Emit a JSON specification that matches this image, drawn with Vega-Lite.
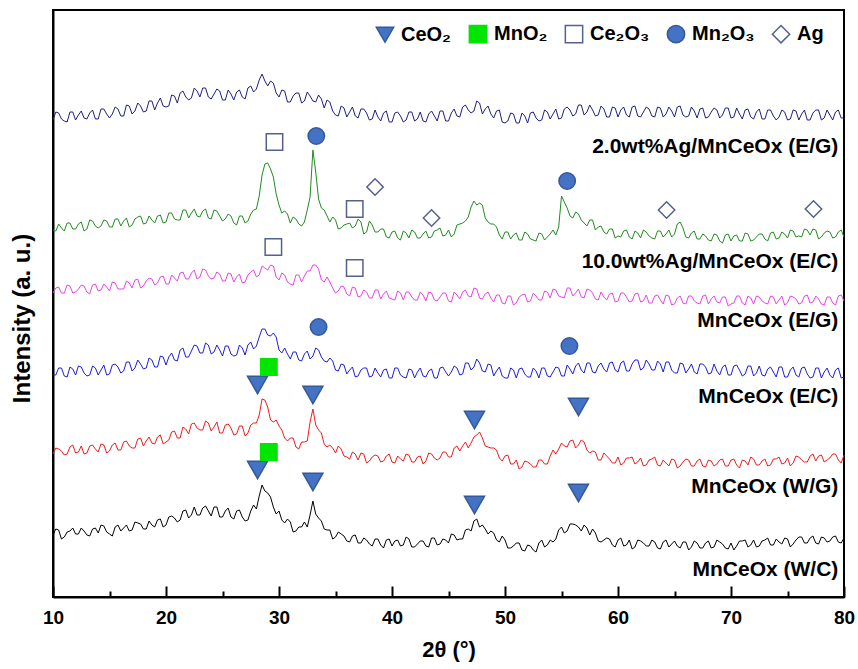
{
  "$schema": "https://vega.github.io/schema/vega-lite/v6.json",
  "width": 791,
  "height": 587,
  "autosize": {"type": "none"},
  "padding": {"left": 53, "top": 10, "right": 14, "bottom": 72},
  "background": "white",
  "config": {
    "view": {"stroke": "black", "strokeWidth": 2},
    "font": "Liberation Sans",
    "axis": {"domainColor": "black", "domainWidth": 2, "tickColor": "black", "tickWidth": 2, "grid": false, "labelFontWeight": "bold", "titleFontWeight": "bold", "labelColor": "black", "titleColor": "black", "labelFont": "Liberation Sans", "titleFont": "Liberation Sans"}
  },
  "resolve": {"axis": {"x": "independent", "y": "independent"}},
  "layer": [
    {
      "data": {"values": [
        {"x":10,"wc":62,"wg":143,"ec":222,"eg":304,"ag10":367,"ag2":477},
        {"x":10.5,"wc":67,"wg":148,"ec":229,"eg":310,"ag10":373,"ag2":484},
        {"x":11,"wc":60,"wg":142,"ec":221,"eg":304,"ag10":366,"ag2":476},
        {"x":11.5,"wc":66,"wg":150,"ec":230,"eg":311,"ag10":374,"ag2":485},
        {"x":12,"wc":63,"wg":144,"ec":222,"eg":305,"ag10":368,"ag2":477},
        {"x":12.5,"wc":69,"wg":151,"ec":230,"eg":312,"ag10":375,"ag2":486},
        {"x":13,"wc":62,"wg":144,"ec":221,"eg":305,"ag10":368,"ag2":478},
        {"x":13.5,"wc":68,"wg":152,"ec":231,"eg":312,"ag10":376,"ag2":487},
        {"x":14,"wc":64,"wg":145,"ec":222,"eg":306,"ag10":369,"ag2":478},
        {"x":14.5,"wc":71,"wg":152,"ec":232,"eg":313,"ag10":377,"ag2":488},
        {"x":15,"wc":63,"wg":146,"ec":223,"eg":306,"ag10":370,"ag2":479},
        {"x":15.5,"wc":70,"wg":154,"ec":233,"eg":314,"ag10":378,"ag2":490},
        {"x":16,"wc":66,"wg":147,"ec":224,"eg":308,"ag10":371,"ag2":481},
        {"x":16.5,"wc":72,"wg":156,"ec":235,"eg":316,"ag10":379,"ag2":492},
        {"x":17,"wc":67,"wg":149,"ec":226,"eg":309,"ag10":372,"ag2":483},
        {"x":17.5,"wc":74,"wg":158,"ec":237,"eg":318,"ag10":380,"ag2":494},
        {"x":18,"wc":68,"wg":151,"ec":228,"eg":311,"ag10":373,"ag2":485},
        {"x":18.5,"wc":76,"wg":160,"ec":239,"eg":319,"ag10":381,"ag2":496},
        {"x":19,"wc":70,"wg":153,"ec":230,"eg":312,"ag10":374,"ag2":487},
        {"x":19.5,"wc":78,"wg":162,"ec":241,"eg":320,"ag10":382,"ag2":499},
        {"x":20,"wc":72,"wg":155,"ec":232,"eg":313,"ag10":375,"ag2":490},
        {"x":20.5,"wc":81,"wg":165,"ec":244,"eg":322,"ag10":384,"ag2":502},
        {"x":21,"wc":75,"wg":159,"ec":236,"eg":316,"ag10":377,"ag2":494},
        {"x":21.5,"wc":86,"wg":170,"ec":249,"eg":325,"ag10":387,"ag2":506},
        {"x":22,"wc":79,"wg":163,"ec":240,"eg":318,"ag10":379,"ag2":497},
        {"x":22.5,"wc":90,"wg":174,"ec":252,"eg":327,"ag10":388,"ag2":509},
        {"x":23,"wc":82,"wg":167,"ec":244,"eg":320,"ag10":380,"ag2":500},
        {"x":23.5,"wc":91,"wg":176,"ec":254,"eg":327,"ag10":388,"ag2":509},
        {"x":24,"wc":81,"wg":166,"ec":243,"eg":318,"ag10":378,"ag2":498},
        {"x":24.5,"wc":90,"wg":175,"ec":252,"eg":325,"ag10":386,"ag2":508},
        {"x":25,"wc":80,"wg":164,"ec":241,"eg":316,"ag10":376,"ag2":497},
        {"x":25.5,"wc":89,"wg":173,"ec":251,"eg":324,"ag10":383,"ag2":507},
        {"x":26,"wc":78,"wg":162,"ec":241,"eg":315,"ag10":374,"ag2":497},
        {"x":26.5,"wc":87,"wg":171,"ec":252,"eg":323,"ag10":381,"ag2":507},
        {"x":27,"wc":76,"wg":161,"ec":242,"eg":315,"ag10":374,"ag2":498},
        {"x":27.5,"wc":86,"wg":172,"ec":255,"eg":325,"ag10":383,"ag2":511},
        {"x":28,"wc":88,"wg":174,"ec":251,"eg":320,"ag10":388,"ag2":508},
        {"x":28.5,"wc":112,"wg":198,"ec":268,"eg":331,"ag10":422,"ag2":523},
        {"x":29,"wc":104,"wg":190,"ec":262,"eg":327,"ag10":434,"ag2":511},
        {"x":29.5,"wc":90,"wg":175,"ec":264,"eg":331,"ag10":420,"ag2":514},
        {"x":30,"wc":86,"wg":171,"ec":247,"eg":317,"ag10":392,"ag2":500},
        {"x":30.5,"wc":74,"wg":159,"ec":249,"eg":322,"ag10":386,"ag2":506},
        {"x":31,"wc":75,"wg":159,"ec":238,"eg":313,"ag10":374,"ag2":495},
        {"x":31.5,"wc":66,"wg":150,"ec":245,"eg":322,"ag10":378,"ag2":504},
        {"x":32,"wc":70,"wg":155,"ec":236,"eg":315,"ag10":371,"ag2":494},
        {"x":32.5,"wc":70,"wg":156,"ec":246,"eg":326,"ag10":387,"ag2":505},
        {"x":33,"wc":96,"wg":188,"ec":241,"eg":332,"ag10":447,"ag2":496},
        {"x":33.5,"wc":79,"wg":167,"ec":247,"eg":328,"ag10":398,"ag2":502},
        {"x":34,"wc":68,"wg":153,"ec":236,"eg":315,"ag10":387,"ag2":489},
        {"x":34.5,"wc":67,"wg":152,"ec":239,"eg":315,"ag10":375,"ag2":495},
        {"x":35,"wc":60,"wg":144,"ec":227,"eg":304,"ag10":377,"ag2":482},
        {"x":35.5,"wc":63,"wg":148,"ec":233,"eg":311,"ag10":369,"ag2":491},
        {"x":36,"wc":56,"wg":140,"ec":223,"eg":303,"ag10":373,"ag2":480},
        {"x":36.5,"wc":61,"wg":145,"ec":230,"eg":310,"ag10":369,"ag2":490},
        {"x":37,"wc":54,"wg":137,"ec":221,"eg":300,"ag10":378,"ag2":479},
        {"x":37.5,"wc":59,"wg":143,"ec":229,"eg":307,"ag10":363,"ag2":488},
        {"x":38,"wc":53,"wg":136,"ec":220,"eg":299,"ag10":376,"ag2":477},
        {"x":38.5,"wc":58,"wg":142,"ec":229,"eg":307,"ag10":365,"ag2":487},
        {"x":39,"wc":52,"wg":135,"ec":220,"eg":298,"ag10":368,"ag2":476},
        {"x":39.5,"wc":57,"wg":141,"ec":228,"eg":306,"ag10":360,"ag2":486},
        {"x":40,"wc":51,"wg":135,"ec":219,"eg":298,"ag10":365,"ag2":475},
        {"x":40.5,"wc":57,"wg":141,"ec":229,"eg":306,"ag10":359,"ag2":485},
        {"x":41,"wc":52,"wg":136,"ec":220,"eg":297,"ag10":366,"ag2":475},
        {"x":41.5,"wc":58,"wg":142,"ec":228,"eg":305,"ag10":359,"ag2":485},
        {"x":42,"wc":50,"wg":135,"ec":219,"eg":297,"ag10":365,"ag2":476},
        {"x":42.5,"wc":56,"wg":141,"ec":229,"eg":305,"ag10":359,"ag2":485},
        {"x":43,"wc":51,"wg":136,"ec":220,"eg":296,"ag10":366,"ag2":475},
        {"x":43.5,"wc":59,"wg":143,"ec":228,"eg":304,"ag10":360,"ag2":486},
        {"x":44,"wc":52,"wg":137,"ec":219,"eg":296,"ag10":367,"ag2":476},
        {"x":44.5,"wc":58,"wg":145,"ec":230,"eg":304,"ag10":361,"ag2":486},
        {"x":45,"wc":54,"wg":140,"ec":221,"eg":296,"ag10":367,"ag2":476},
        {"x":45.5,"wc":62,"wg":149,"ec":231,"eg":305,"ag10":363,"ag2":488},
        {"x":46,"wc":58,"wg":146,"ec":222,"eg":298,"ag10":373,"ag2":480},
        {"x":46.5,"wc":67,"wg":155,"ec":234,"eg":307,"ag10":376,"ag2":492},
        {"x":47,"wc":66,"wg":154,"ec":227,"eg":300,"ag10":390,"ag2":484},
        {"x":47.5,"wc":78,"wg":162,"ec":238,"eg":308,"ag10":392,"ag2":496},
        {"x":48,"wc":72,"wg":159,"ec":226,"eg":298,"ag10":392,"ag2":483},
        {"x":48.5,"wc":63,"wg":150,"ec":233,"eg":305,"ag10":375,"ag2":491},
        {"x":49,"wc":64,"wg":149,"ec":221,"eg":295,"ag10":373,"ag2":479},
        {"x":49.5,"wc":55,"wg":139,"ec":230,"eg":302,"ag10":362,"ag2":487},
        {"x":50,"wc":57,"wg":141,"ec":219,"eg":293,"ag10":365,"ag2":474},
        {"x":50.5,"wc":49,"wg":133,"ec":229,"eg":301,"ag10":358,"ag2":484},
        {"x":51,"wc":54,"wg":137,"ec":219,"eg":294,"ag10":364,"ag2":474},
        {"x":51.5,"wc":47,"wg":130,"ec":229,"eg":302,"ag10":357,"ag2":484},
        {"x":52,"wc":52,"wg":135,"ec":220,"eg":295,"ag10":363,"ag2":474},
        {"x":52.5,"wc":47,"wg":130,"ec":229,"eg":304,"ag10":357,"ag2":485},
        {"x":53,"wc":54,"wg":137,"ec":219,"eg":297,"ag10":364,"ag2":476},
        {"x":53.5,"wc":50,"wg":133,"ec":229,"eg":306,"ag10":357,"ag2":487},
        {"x":54,"wc":57,"wg":141,"ec":220,"eg":299,"ag10":363,"ag2":478},
        {"x":54.5,"wc":58,"wg":143,"ec":230,"eg":307,"ag10":362,"ag2":488},
        {"x":55,"wc":70,"wg":154,"ec":221,"eg":300,"ag10":401,"ag2":479},
        {"x":55.5,"wc":66,"wg":150,"ec":232,"eg":309,"ag10":389,"ag2":490},
        {"x":56,"wc":73,"wg":157,"ec":223,"eg":301,"ag10":379,"ag2":481},
        {"x":56.5,"wc":70,"wg":152,"ec":234,"eg":308,"ag10":383,"ag2":492},
        {"x":57,"wc":72,"wg":155,"ec":224,"eg":299,"ag10":374,"ag2":482},
        {"x":57.5,"wc":62,"wg":144,"ec":234,"eg":307,"ag10":377,"ag2":492},
        {"x":58,"wc":64,"wg":145,"ec":224,"eg":298,"ag10":367,"ag2":481},
        {"x":58.5,"wc":55,"wg":137,"ec":234,"eg":305,"ag10":371,"ag2":491},
        {"x":59,"wc":59,"wg":141,"ec":225,"eg":297,"ag10":363,"ag2":480},
        {"x":59.5,"wc":52,"wg":134,"ec":235,"eg":304,"ag10":368,"ag2":490},
        {"x":60,"wc":57,"wg":140,"ec":225,"eg":296,"ag10":361,"ag2":480},
        {"x":60.5,"wc":51,"wg":134,"ec":236,"eg":304,"ag10":366,"ag2":490},
        {"x":61,"wc":57,"wg":139,"ec":226,"eg":295,"ag10":360,"ag2":480},
        {"x":61.5,"wc":50,"wg":133,"ec":237,"eg":303,"ag10":366,"ag2":491},
        {"x":62,"wc":56,"wg":139,"ec":227,"eg":295,"ag10":359,"ag2":480},
        {"x":62.5,"wc":51,"wg":132,"ec":237,"eg":302,"ag10":365,"ag2":490},
        {"x":63,"wc":57,"wg":138,"ec":227,"eg":294,"ag10":359,"ag2":481},
        {"x":63.5,"wc":49,"wg":132,"ec":236,"eg":302,"ag10":366,"ag2":490},
        {"x":64,"wc":55,"wg":137,"ec":225,"eg":293,"ag10":360,"ag2":480},
        {"x":64.5,"wc":50,"wg":131,"ec":235,"eg":301,"ag10":367,"ag2":490},
        {"x":65,"wc":56,"wg":137,"ec":224,"eg":293,"ag10":363,"ag2":480},
        {"x":65.5,"wc":49,"wg":131,"ec":234,"eg":301,"ag10":375,"ag2":491},
        {"x":66,"wc":55,"wg":138,"ec":224,"eg":293,"ag10":360,"ag2":480},
        {"x":66.5,"wc":50,"wg":131,"ec":233,"eg":301,"ag10":364,"ag2":490},
        {"x":67,"wc":54,"wg":136,"ec":223,"eg":294,"ag10":358,"ag2":479},
        {"x":67.5,"wc":49,"wg":131,"ec":233,"eg":301,"ag10":363,"ag2":489},
        {"x":68,"wc":56,"wg":137,"ec":223,"eg":293,"ag10":357,"ag2":480},
        {"x":68.5,"wc":50,"wg":131,"ec":233,"eg":301,"ag10":363,"ag2":489},
        {"x":69,"wc":55,"wg":137,"ec":222,"eg":294,"ag10":356,"ag2":479},
        {"x":69.5,"wc":49,"wg":131,"ec":232,"eg":300,"ag10":362,"ag2":489},
        {"x":70,"wc":54,"wg":137,"ec":222,"eg":293,"ag10":356,"ag2":479},
        {"x":70.5,"wc":51,"wg":132,"ec":232,"eg":301,"ag10":362,"ag2":489},
        {"x":71,"wc":56,"wg":137,"ec":221,"eg":294,"ag10":356,"ag2":478},
        {"x":71.5,"wc":50,"wg":132,"ec":231,"eg":301,"ag10":363,"ag2":488},
        {"x":72,"wc":57,"wg":138,"ec":221,"eg":293,"ag10":357,"ag2":478},
        {"x":72.5,"wc":51,"wg":132,"ec":231,"eg":300,"ag10":363,"ag2":488},
        {"x":73,"wc":57,"wg":138,"ec":221,"eg":294,"ag10":358,"ag2":478},
        {"x":73.5,"wc":52,"wg":132,"ec":230,"eg":301,"ag10":364,"ag2":487},
        {"x":74,"wc":58,"wg":138,"ec":220,"eg":293,"ag10":358,"ag2":477},
        {"x":74.5,"wc":53,"wg":133,"ec":230,"eg":301,"ag10":365,"ag2":487},
        {"x":75,"wc":58,"wg":139,"ec":220,"eg":294,"ag10":359,"ag2":477},
        {"x":75.5,"wc":53,"wg":134,"ec":230,"eg":300,"ag10":366,"ag2":487},
        {"x":76,"wc":60,"wg":140,"ec":220,"eg":293,"ag10":361,"ag2":477},
        {"x":76.5,"wc":54,"wg":135,"ec":230,"eg":301,"ag10":368,"ag2":487},
        {"x":77,"wc":59,"wg":141,"ec":219,"eg":294,"ag10":362,"ag2":477},
        {"x":77.5,"wc":54,"wg":136,"ec":229,"eg":301,"ag10":367,"ag2":487},
        {"x":78,"wc":60,"wg":142,"ec":219,"eg":293,"ag10":360,"ag2":477},
        {"x":78.5,"wc":55,"wg":137,"ec":229,"eg":300,"ag10":366,"ag2":487},
        {"x":79,"wc":60,"wg":143,"ec":219,"eg":294,"ag10":359,"ag2":477},
        {"x":79.5,"wc":55,"wg":137,"ec":229,"eg":301,"ag10":365,"ag2":487},
        {"x":80,"wc":59,"wg":142,"ec":220,"eg":296,"ag10":360,"ag2":479},
        {"x":10.25,"wc":68,"wg":149,"ec":222,"eg":309,"ag10":366,"ag2":485},
        {"x":10.75,"wc":58,"wg":146,"ec":229,"eg":304,"ag10":369,"ag2":478},
        {"x":11.25,"wc":65,"wg":143,"ec":220,"eg":312,"ag10":374,"ag2":475},
        {"x":11.75,"wc":69,"wg":152,"ec":228,"eg":304,"ag10":368,"ag2":485},
        {"x":12.25,"wc":63,"wg":145,"ec":231,"eg":308,"ag10":373,"ag2":482},
        {"x":12.75,"wc":66,"wg":143,"ec":224,"eg":311,"ag10":366,"ag2":479},
        {"x":13.25,"wc":61,"wg":151,"ec":222,"eg":303,"ag10":377,"ag2":484},
        {"x":13.75,"wc":69,"wg":148,"ec":229,"eg":313,"ag10":371,"ag2":478},
        {"x":14.25,"wc":72,"wg":153,"ec":227,"eg":307,"ag10":371,"ag2":488},
        {"x":14.75,"wc":65,"wg":144,"ec":222,"eg":310,"ag10":376,"ag2":483},
        {"x":15.25,"wc":61,"wg":152,"ec":232,"eg":315,"ag10":370,"ag2":483},
        {"x":15.75,"wc":72,"wg":147,"ec":230,"eg":308,"ag10":378,"ag2":488},
        {"x":16.25,"wc":69,"wg":155,"ec":226,"eg":308,"ag10":376,"ag2":481},
        {"x":16.75,"wc":66,"wg":151,"ec":235,"eg":314,"ag10":370,"ag2":491},
        {"x":17.25,"wc":75,"wg":149,"ec":229,"eg":317,"ag10":378,"ag2":486},
        {"x":17.75,"wc":73,"wg":159,"ec":233,"eg":309,"ag10":381,"ag2":491},
        {"x":18.25,"wc":68,"wg":156,"ec":229,"eg":316,"ag10":374,"ag2":486},
        {"x":18.75,"wc":72,"wg":154,"ec":237,"eg":318,"ag10":377,"ag2":496},
        {"x":19.25,"wc":77,"wg":160,"ec":230,"eg":314,"ag10":381,"ag2":494},
        {"x":19.75,"wc":70,"wg":153,"ec":240,"eg":321,"ag10":374,"ag2":491},
        {"x":20.25,"wc":80,"wg":157,"ec":240,"eg":313,"ag10":384,"ag2":491},
        {"x":20.75,"wc":79,"wg":166,"ec":237,"eg":319,"ag10":378,"ag2":501},
        {"x":21.25,"wc":77,"wg":159,"ec":247,"eg":324,"ag10":377,"ag2":504},
        {"x":21.75,"wc":87,"wg":168,"ec":240,"eg":318,"ag10":387,"ag2":500},
        {"x":22.25,"wc":82,"wg":173,"ec":246,"eg":324,"ag10":384,"ag2":499},
        {"x":22.75,"wc":82,"wg":169,"ec":251,"eg":318,"ag10":381,"ag2":506},
        {"x":23.25,"wc":89,"wg":167,"ec":244,"eg":328,"ag10":386,"ag2":509},
        {"x":23.75,"wc":86,"wg":174,"ec":252,"eg":321,"ag10":379,"ag2":500},
        {"x":24.25,"wc":90,"wg":170,"ec":245,"eg":319,"ag10":387,"ag2":503},
        {"x":24.75,"wc":80,"wg":164,"ec":247,"eg":323,"ag10":381,"ag2":506},
        {"x":25.25,"wc":86,"wg":172,"ec":251,"eg":316,"ag10":378,"ag2":497},
        {"x":25.75,"wc":80,"wg":169,"ec":243,"eg":323,"ag10":381,"ag2":503},
        {"x":26.25,"wc":86,"wg":163,"ec":242,"eg":320,"ag10":372,"ag2":505},
        {"x":26.75,"wc":80,"wg":171,"ec":249,"eg":314,"ag10":381,"ag2":500},
        {"x":27.25,"wc":77,"wg":164,"ec":252,"eg":322,"ag10":376,"ag2":509},
        {"x":27.75,"wc":92,"wg":174,"ec":248,"eg":327,"ag10":387,"ag2":505},
        {"x":28.25,"wc":101,"wg":182,"ec":260,"eg":322,"ag10":401,"ag2":517},
        {"x":28.75,"wc":106,"wg":197,"ec":268,"eg":329,"ag10":433,"ag2":516},
        {"x":29.25,"wc":100,"wg":177,"ec":261,"eg":332,"ag10":428,"ag2":516},
        {"x":29.75,"wc":83,"wg":177,"ec":260,"eg":320,"ag10":403,"ag2":504},
        {"x":30.25,"wc":77,"wg":167,"ec":244,"eg":324,"ag10":384,"ag2":507},
        {"x":30.75,"wc":78,"wg":156,"ec":243,"eg":315,"ag10":383,"ag2":495},
        {"x":31.25,"wc":65,"wg":159,"ec":245,"eg":312,"ag10":380,"ag2":501},
        {"x":31.75,"wc":70,"wg":148,"ec":237,"eg":322,"ag10":373,"ag2":504},
        {"x":32.25,"wc":75,"wg":155,"ec":243,"eg":321,"ag10":375,"ag2":496},
        {"x":32.75,"wc":82,"wg":175,"ec":238,"eg":326,"ag10":400,"ag2":501},
        {"x":33.25,"wc":83,"wg":172,"ec":249,"eg":332,"ag10":425,"ag2":495},
        {"x":33.75,"wc":76,"wg":164,"ec":240,"eg":317,"ag10":389,"ag2":498},
        {"x":34.25,"wc":67,"wg":150,"ec":235,"eg":320,"ag10":381,"ag2":497},
        {"x":34.75,"wc":58,"wg":149,"ec":236,"eg":309,"ag10":380,"ag2":486},
        {"x":35.25,"wc":65,"wg":151,"ec":226,"eg":306,"ag10":368,"ag2":481},
        {"x":35.75,"wc":61,"wg":141,"ec":232,"eg":310,"ag10":372,"ag2":489},
        {"x":36.25,"wc":55,"wg":138,"ec":227,"eg":301,"ag10":374,"ag2":485},
        {"x":36.75,"wc":62,"wg":143,"ec":220,"eg":309,"ag10":371,"ag2":481},
        {"x":37.25,"wc":54,"wg":144,"ec":227,"eg":301,"ag10":375,"ag2":488},
        {"x":37.75,"wc":57,"wg":134,"ec":229,"eg":305,"ag10":365,"ag2":484},
        {"x":38.25,"wc":51,"wg":140,"ec":221,"eg":299,"ag10":372,"ag2":478},
        {"x":38.75,"wc":58,"wg":141,"ec":224,"eg":307,"ag10":365,"ag2":480},
        {"x":39.25,"wc":49,"wg":136,"ec":227,"eg":303,"ag10":368,"ag2":484},
        {"x":39.75,"wc":58,"wg":143,"ec":219,"eg":299,"ag10":359,"ag2":475},
        {"x":40.25,"wc":56,"wg":134,"ec":229,"eg":297,"ag10":366,"ag2":484},
        {"x":40.75,"wc":51,"wg":138,"ec":222,"eg":304,"ag10":357,"ag2":481},
        {"x":41.25,"wc":60,"wg":143,"ec":219,"eg":305,"ag10":364,"ag2":477},
        {"x":41.75,"wc":50,"wg":135,"ec":227,"eg":300,"ag10":367,"ag2":485},
        {"x":42.25,"wc":53,"wg":140,"ec":225,"eg":297,"ag10":359,"ag2":478},
        {"x":42.75,"wc":56,"wg":133,"ec":221,"eg":302,"ag10":363,"ag2":476},
        {"x":43.25,"wc":50,"wg":144,"ec":226,"eg":305,"ag10":359,"ag2":483},
        {"x":43.75,"wc":59,"wg":139,"ec":219,"eg":297,"ag10":366,"ag2":481},
        {"x":44.25,"wc":53,"wg":139,"ec":229,"eg":300,"ag10":369,"ag2":486},
        {"x":44.75,"wc":57,"wg":145,"ec":225,"eg":304,"ag10":362,"ag2":476},
        {"x":45.25,"wc":63,"wg":140,"ec":225,"eg":295,"ag10":360,"ag2":484},
        {"x":45.75,"wc":57,"wg":151,"ec":229,"eg":302,"ag10":372,"ag2":481},
        {"x":46.25,"wc":58,"wg":151,"ec":223,"eg":305,"ag10":374,"ag2":490},
        {"x":46.75,"wc":68,"wg":149,"ec":234,"eg":301,"ag10":380,"ag2":487},
        {"x":47.25,"wc":76,"wg":160,"ec":230,"eg":309,"ag10":396,"ag2":486},
        {"x":47.75,"wc":70,"wg":165,"ec":234,"eg":299,"ag10":394,"ag2":494},
        {"x":48.25,"wc":68,"wg":151,"ec":225,"eg":303,"ag10":379,"ag2":488},
        {"x":48.75,"wc":66,"wg":149,"ec":232,"eg":299,"ag10":373,"ag2":483},
        {"x":49.25,"wc":57,"wg":147,"ec":226,"eg":302,"ag10":370,"ag2":486},
        {"x":49.75,"wc":61,"wg":136,"ec":221,"eg":294,"ag10":358,"ag2":475},
        {"x":50.25,"wc":49,"wg":142,"ec":219,"eg":301,"ag10":365,"ag2":476},
        {"x":50.75,"wc":51,"wg":133,"ec":227,"eg":292,"ag10":362,"ag2":483},
        {"x":51.25,"wc":54,"wg":128,"ec":228,"eg":300,"ag10":357,"ag2":474},
        {"x":51.75,"wc":46,"wg":136,"ec":223,"eg":303,"ag10":365,"ag2":481},
        {"x":52.25,"wc":51,"wg":133,"ec":220,"eg":296,"ag10":358,"ag2":484},
        {"x":52.75,"wc":45,"wg":130,"ec":226,"eg":301,"ag10":356,"ag2":479},
        {"x":53.25,"wc":57,"wg":137,"ec":229,"eg":297,"ag10":363,"ag2":477},
        {"x":53.75,"wc":52,"wg":133,"ec":221,"eg":305,"ag10":360,"ag2":485},
        {"x":54.25,"wc":55,"wg":147,"ec":225,"eg":308,"ag10":367,"ag2":483},
        {"x":54.75,"wc":67,"wg":148,"ec":229,"eg":301,"ag10":370,"ag2":478},
        {"x":55.25,"wc":64,"wg":151,"ec":221,"eg":299,"ag10":395,"ag2":488},
        {"x":55.75,"wc":73,"wg":156,"ec":228,"eg":309,"ag10":381,"ag2":487},
        {"x":56.25,"wc":72,"wg":149,"ec":231,"eg":304,"ag10":385,"ag2":483},
        {"x":56.75,"wc":66,"wg":157,"ec":227,"eg":300,"ag10":377,"ag2":492},
        {"x":57.25,"wc":69,"wg":147,"ec":234,"eg":308,"ag10":371,"ag2":485},
        {"x":57.75,"wc":68,"wg":146,"ec":225,"eg":304,"ag10":377,"ag2":487},
        {"x":58.25,"wc":56,"wg":137,"ec":231,"eg":297,"ag10":370,"ag2":482},
        {"x":58.75,"wc":57,"wg":144,"ec":228,"eg":300,"ag10":365,"ag2":488},
        {"x":59.25,"wc":58,"wg":138,"ec":234,"eg":303,"ag10":368,"ag2":480},
        {"x":59.75,"wc":50,"wg":134,"ec":227,"eg":295,"ag10":359,"ag2":489},
        {"x":60.25,"wc":59,"wg":132,"ec":234,"eg":304,"ag10":360,"ag2":487},
        {"x":60.75,"wc":52,"wg":139,"ec":226,"eg":300,"ag10":367,"ag2":482},
        {"x":61.25,"wc":48,"wg":140,"ec":233,"eg":296,"ag10":358,"ag2":490},
        {"x":61.75,"wc":57,"wg":135,"ec":237,"eg":304,"ag10":364,"ag2":481},
        {"x":62.25,"wc":54,"wg":131,"ec":229,"eg":296,"ag10":367,"ag2":485},
        {"x":62.75,"wc":51,"wg":137,"ec":233,"eg":294,"ag10":361,"ag2":488},
        {"x":63.25,"wc":55,"wg":140,"ec":227,"eg":301,"ag10":358,"ag2":480},
        {"x":63.75,"wc":48,"wg":131,"ec":233,"eg":297,"ag10":366,"ag2":489},
        {"x":64.25,"wc":57,"wg":134,"ec":235,"eg":302,"ag10":363,"ag2":483},
        {"x":64.75,"wc":53,"wg":138,"ec":227,"eg":292,"ag10":360,"ag2":486},
        {"x":65.25,"wc":51,"wg":129,"ec":224,"eg":299,"ag10":373,"ag2":490},
        {"x":65.75,"wc":55,"wg":135,"ec":233,"eg":294,"ag10":369,"ag2":482},
        {"x":66.25,"wc":47,"wg":137,"ec":228,"eg":301,"ag10":359,"ag2":481},
        {"x":66.75,"wc":56,"wg":131,"ec":225,"eg":296,"ag10":366,"ag2":486},
        {"x":67.25,"wc":49,"wg":138,"ec":233,"eg":293,"ag10":358,"ag2":488},
        {"x":67.75,"wc":54,"wg":130,"ec":230,"eg":302,"ag10":361,"ag2":479},
        {"x":68.25,"wc":49,"wg":136,"ec":224,"eg":298,"ag10":356,"ag2":485},
        {"x":68.75,"wc":57,"wg":133,"ec":226,"eg":295,"ag10":362,"ag2":487},
        {"x":69.25,"wc":53,"wg":138,"ec":230,"eg":300,"ag10":354,"ag2":482},
        {"x":69.75,"wc":48,"wg":131,"ec":222,"eg":291,"ag10":363,"ag2":489},
        {"x":70.25,"wc":47,"wg":138,"ec":231,"eg":294,"ag10":361,"ag2":480},
        {"x":70.75,"wc":56,"wg":129,"ec":227,"eg":301,"ag10":356,"ag2":483},
        {"x":71.25,"wc":57,"wg":136,"ec":223,"eg":292,"ag10":364,"ag2":487},
        {"x":71.75,"wc":52,"wg":140,"ec":231,"eg":299,"ag10":356,"ag2":480},
        {"x":72.25,"wc":50,"wg":132,"ec":224,"eg":301,"ag10":360,"ag2":485},
        {"x":72.75,"wc":56,"wg":136,"ec":222,"eg":296,"ag10":363,"ag2":478},
        {"x":73.25,"wc":59,"wg":131,"ec":228,"eg":293,"ag10":356,"ag2":487},
        {"x":73.75,"wc":52,"wg":138,"ec":225,"eg":300,"ag10":365,"ag2":481},
        {"x":74.25,"wc":55,"wg":140,"ec":230,"eg":297,"ag10":359,"ag2":480},
        {"x":74.75,"wc":59,"wg":134,"ec":220,"eg":292,"ag10":363,"ag2":485},
        {"x":75.25,"wc":50,"wg":131,"ec":227,"eg":301,"ag10":367,"ag2":478},
        {"x":75.75,"wc":57,"wg":141,"ec":222,"eg":298,"ag10":360,"ag2":486},
        {"x":76.25,"wc":60,"wg":137,"ec":229,"eg":294,"ag10":360,"ag2":483},
        {"x":76.75,"wc":54,"wg":135,"ec":223,"eg":302,"ag10":367,"ag2":477},
        {"x":77.25,"wc":61,"wg":143,"ec":220,"eg":295,"ag10":368,"ag2":484},
        {"x":77.75,"wc":53,"wg":141,"ec":229,"eg":298,"ag10":358,"ag2":487},
        {"x":78.25,"wc":59,"wg":135,"ec":225,"eg":292,"ag10":364,"ag2":479},
        {"x":78.75,"wc":56,"wg":139,"ec":222,"eg":300,"ag10":365,"ag2":482},
        {"x":79.25,"wc":61,"wg":143,"ec":227,"eg":292,"ag10":360,"ag2":485},
        {"x":79.75,"wc":54,"wg":134,"ec":219,"eg":302,"ag10":367,"ag2":479}
      ]},
      "transform": [{"fold": ["wc", "wg", "ec", "eg", "ag10", "ag2"], "as": ["s", "v"]}],
      "mark": {"type": "line", "strokeWidth": 1, "interpolate": "linear"},
      "encoding": {
        "x": {"field": "x", "type": "quantitative", "scale": {"domain": [10, 80], "nice": false, "zero": false},
          "axis": {"orient": "bottom", "values": [10, 20, 30, 40, 50, 60, 70, 80], "tickSize": -11, "labelPadding": 22, "labelFontSize": 19, "labelFlush": false, "labelOverlap": false, "title": "2θ (°)", "titleFontSize": 22, "titlePadding": 12}},
        "y": {"field": "v", "type": "quantitative", "scale": {"domain": [0, 587], "nice": false, "zero": false},
          "axis": {"orient": "left", "labels": false, "ticks": false, "title": "Intensity (a. u.)", "titleFontSize": 24, "titlePadding": 19, "titleY": 308}},
        "color": {"field": "s", "type": "nominal", "legend": null,
          "scale": {"domain": ["wc", "wg", "ec", "eg", "ag10", "ag2"], "range": ["#000000", "#ee1c1c", "#1c1cdd", "#e645e6", "#228b22", "#1f1f80"]}},
        "detail": {"field": "s"}
      }
    },
    {
      "data": {"values": [
        {"phase": "CeO₂", "x": 28.1, "y": 212},
        {"phase": "CeO₂", "x": 33.0, "y": 202},
        {"phase": "CeO₂", "x": 47.3, "y": 177},
        {"phase": "CeO₂", "x": 56.5, "y": 190},
        {"phase": "CeO₂", "x": 28.1, "y": 127},
        {"phase": "CeO₂", "x": 33.0, "y": 115},
        {"phase": "CeO₂", "x": 47.3, "y": 92},
        {"phase": "CeO₂", "x": 56.5, "y": 104},
        {"phase": "MnO₂", "x": 29.1, "y": 230},
        {"phase": "MnO₂", "x": 29.1, "y": 145},
        {"phase": "Ce₂O₃", "x": 29.6, "y": 455},
        {"phase": "Ce₂O₃", "x": 36.7, "y": 388},
        {"phase": "Ce₂O₃", "x": 29.5, "y": 350},
        {"phase": "Ce₂O₃", "x": 36.7, "y": 329},
        {"phase": "Mn₂O₃", "x": 33.3, "y": 461},
        {"phase": "Mn₂O₃", "x": 55.5, "y": 416},
        {"phase": "Mn₂O₃", "x": 33.5, "y": 270},
        {"phase": "Mn₂O₃", "x": 55.7, "y": 251},
        {"phase": "Ag", "x": 38.5, "y": 410},
        {"phase": "Ag", "x": 43.5, "y": 379},
        {"phase": "Ag", "x": 64.3, "y": 387},
        {"phase": "Ag", "x": 77.3, "y": 388}
      ]},
      "mark": {"type": "point", "filled": true, "opacity": 1, "strokeWidth": 1.5},
      "encoding": {
        "x": {"field": "x", "type": "quantitative", "axis": null},
        "y": {"field": "y", "type": "quantitative", "axis": null},
        "size": {"condition": {"test": "datum.phase === 'CeO₂'", "value": 400}, "value": 270},
        "shape": {"field": "phase", "type": "nominal",
          "scale": {"domain": ["CeO₂", "MnO₂", "Ce₂O₃", "Mn₂O₃", "Ag"], "range": ["triangle-down", "square", "square", "circle", "diamond"]},
          "legend": {"orient": "none", "legendX": 322, "legendY": 14, "direction": "horizontal", "title": null, "labelFontSize": 20, "labelFontWeight": "bold", "labelFont": "Liberation Sans", "labelColor": "black", "symbolSize": 300, "symbolStrokeWidth": 1.5, "columnPadding": 14, "labelOffset": 6, "padding": 0}},
        "fill": {"field": "phase", "type": "nominal",
          "scale": {"domain": ["CeO₂", "MnO₂", "Ce₂O₃", "Mn₂O₃", "Ag"], "range": ["#4472c4", "#00e600", "#ffffff", "#4472c4", "#ffffff"]},
          "legend": {"orient": "none", "legendX": 322, "legendY": 14, "direction": "horizontal", "title": null, "labelFontSize": 20, "labelFontWeight": "bold", "labelFont": "Liberation Sans", "labelColor": "black", "symbolSize": 300, "symbolStrokeWidth": 1.5, "columnPadding": 14, "labelOffset": 6, "padding": 0}},
        "stroke": {"field": "phase", "type": "nominal",
          "scale": {"domain": ["CeO₂", "MnO₂", "Ce₂O₃", "Mn₂O₃", "Ag"], "range": ["#34589c", "#00e600", "#55608f", "#34589c", "#55608f"]},
          "legend": {"orient": "none", "legendX": 322, "legendY": 14, "direction": "horizontal", "title": null, "labelFontSize": 20, "labelFontWeight": "bold", "labelFont": "Liberation Sans", "labelColor": "black", "symbolSize": 300, "symbolStrokeWidth": 1.5, "columnPadding": 14, "labelOffset": 6, "padding": 0}}
      }
    },
    {
      "data": {"values": [
        {"label": "2.0wt%Ag/MnCeOx (E/G)", "x": 79.5, "y": 450},
        {"label": "10.0wt%Ag/MnCeOx (E/C)", "x": 79.5, "y": 335},
        {"label": "MnCeOx (E/G)", "x": 79.5, "y": 276},
        {"label": "MnCeOx  (E/C)", "x": 79.5, "y": 200},
        {"label": "MnCeOx  (W/G)", "x": 79.5, "y": 110},
        {"label": "MnCeOx (W/C)", "x": 79.5, "y": 27}
      ]},
      "mark": {"type": "text", "align": "right", "baseline": "middle", "fontSize": 21, "fontWeight": "bold", "font": "Liberation Sans", "color": "black"},
      "encoding": {
        "x": {"field": "x", "type": "quantitative",
          "axis": {"orient": "bottom", "values": [15, 25, 35, 45, 55, 65, 75], "tickSize": -6, "labels": false, "domain": false, "title": null}},
        "y": {"field": "y", "type": "quantitative", "axis": null},
        "text": {"field": "label"}
      }
    }
  ]
}
